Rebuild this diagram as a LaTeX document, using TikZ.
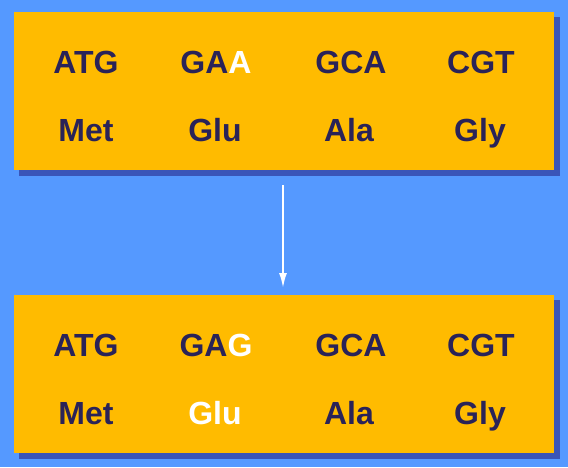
\documentclass[tikz,border=0pt]{standalone}
\usepackage{fontspec}
\setmainfont{Liberation Sans}
\usetikzlibrary{arrows.meta}
\definecolor{bgblue}{HTML}{5599FF}
\definecolor{boxorange}{HTML}{FFBB00}
\definecolor{shadowblue}{HTML}{3A55B8}
\definecolor{txtnavy}{HTML}{2A2358}
\tikzset{
  panel/.style={fill=boxorange, draw=none},
  panelshadow/.style={fill=shadowblue, draw=none},
  codon/.style={font=\fontsize{32}{32}\selectfont\bfseries, text=txtnavy, inner sep=0pt, anchor=base},
}
\begin{document}
\begin{tikzpicture}[x=1pt,y=-1pt]
\fill[bgblue] (0,0) rectangle (568,467);
\useasboundingbox (0,0) rectangle (568,467);
% shadows
\fill[panelshadow] (19,17) rectangle (560,176);
\fill[panelshadow] (19,300) rectangle (560,459);
% panels
\node[panel, minimum width=540pt, minimum height=158pt, inner sep=0pt, anchor=north west] (top) at (14,12) {};
\node[panel, minimum width=540pt, minimum height=158pt, inner sep=0pt, anchor=north west] (bot) at (14,295) {};
% top panel text
\node[codon] (t1) at (86,73) {ATG};
\node[codon] (t2) at (216,73) {GA\textcolor{white}{A}};
\node[codon] (t3) at (351,73) {GCA};
\node[codon] (t4) at (481,73) {CGT};
\node[codon] (a1) at (86,141) {Met};
\node[codon] (a2) at (215,141) {Glu};
\node[codon] (a3) at (349,141) {Ala};
\node[codon] (a4) at (480,141) {Gly};
% bottom panel text
\node[codon] (b1) at (86,356) {ATG};
\node[codon] (b2) at (216,356) {GA\textcolor{white}{G}};
\node[codon] (b3) at (351,356) {GCA};
\node[codon] (b4) at (481,356) {CGT};
\node[codon] (c1) at (86,424) {Met};
\node[codon, text=white] (c2) at (215,424) {Glu};
\node[codon] (c3) at (349,424) {Ala};
\node[codon] (c4) at (480,424) {Gly};
% arrow
\coordinate (as) at (283,185);
\coordinate (ae) at (283,288);
\draw[white, line width=2pt, -{Latex[length=15pt,width=8pt]}] (as) -- (ae);
\end{tikzpicture}
\end{document}
